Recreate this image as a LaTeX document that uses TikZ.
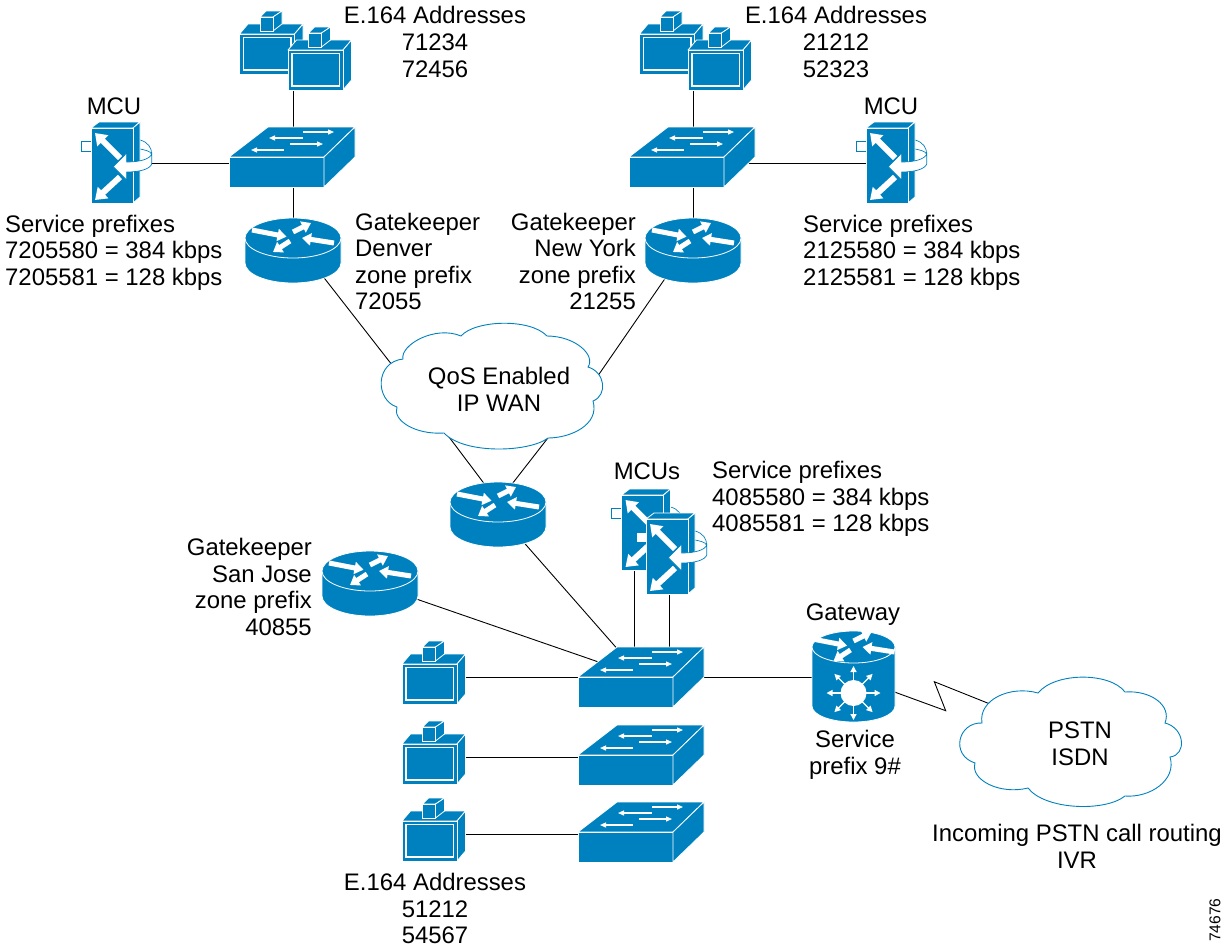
\documentclass[tikz,border=0pt]{standalone}
\usepackage{fontspec}
\setmainfont{Liberation Sans}
\usetikzlibrary{arrows.meta}
\definecolor{ciscoblue}{RGB}{0,129,191}

\tikzset{
    lbl/.style={inner sep=0pt,align=center,font=\fontsize{23.9}{26.6}\selectfont},
    wire/.style={black,line width=0.9pt},
    face/.style={fill=ciscoblue,draw=white,line width=0.8pt,line join=round},
    cloudline/.style={fill=white,draw=ciscoblue,line width=0.9pt},
    fatarrow/.style={white,line width=5pt,-{Triangle[width=12pt,length=9pt]}},
    smallarrow/.style={white,line width=1.3pt,-{Triangle[width=5pt,length=6pt]}},
    mcuarrow/.style={white,line width=6pt,-{Triangle[width=15pt,length=11pt]}},
    spoke/.style={white,line width=1.2pt,-{Triangle[width=6pt,length=6pt]}},
    pics/routertop/.style={code={
        \draw[fatarrow] (-41,-8) -- (-6.5,-1.3);
        \draw[fatarrow] (0,-6) -- (18,-15);
        \draw[fatarrow] (41,5) -- (9,0);
        \draw[fatarrow] (-3,3) -- (-20,14);
    }},
    pics/router/.style={code={
        \path[face] (-48,0) -- (-48,25) .. controls (-48,36) and (-26.5,45) .. (0,45)
            .. controls (26.5,45) and (48,36) .. (48,25) -- (48,0) -- cycle;
        \path[face] (0,0) ellipse [x radius=48,y radius=20];
        \pic {routertop};
    }},
    pics/gateway/.style={code={
        \path[face] (-41.5,-30) -- (-41.5,29) .. controls (-41.5,38) and (-23,45) .. (0,45)
            .. controls (23,45) and (41.5,38) .. (41.5,29) -- (41.5,-30) -- cycle;
        \path[face] (0,-30) ellipse [x radius=41.5,y radius=16];
        \begin{scope}[shift={(0,-30)},xscale=0.86,yscale=0.8]
            \pic {routertop};
        \end{scope}
        \foreach \a in {0,45,...,315}
            \draw[spoke] (\a:12) ++(0,16) -- ++(\a:15);
        \fill[white] (0,16) circle (13);
    }},
    pics/switch/.style={code={
        \path[face] (-64,0) -- (-25,-30) -- (62,-30) -- (31,0) -- cycle;
        \path[face] (-64,0) rectangle (31,30);
        \path[face] (31,0) -- (62,-30) -- (62,0) -- (31,30) -- cycle;
        \draw[smallarrow] (10,-25) -- (41,-25);
        \draw[smallarrow] (10,-19) -- (-24,-19);
        \draw[smallarrow] (-3,-13) -- (30,-13);
        \draw[smallarrow] (-9,-7) -- (-42,-7);
    }},
    pics/terminal/.style={code={
        \path[face] (-27.5,-13) -- (-19,-23) -- (36,-23) -- (27.5,-13) -- cycle;
        \path[face] (27.5,-13) -- (36,-23) -- (36,17) -- (27.5,27) -- cycle;
        \path[face] (-7,-30) -- (-1,-36) -- (15,-36) -- (6,-30) -- cycle;
        \path[face] (6,-30) -- (15,-36) -- (15,-23) -- (6,-16) -- cycle;
        \path[face] (-7,-30) rectangle (6,-16);
        \path[face] (-27.5,-13) rectangle (27.5,27);
        \draw[white,line width=1.2pt] (-23.5,-9.5) rectangle (24,23);
    }},
    pics/mcu/.style={code={
        \draw[ciscoblue,line width=0.7pt,fill=white] (-31,-22) rectangle (-21,-12);
        \draw[ciscoblue,line width=0.7pt] (28,-23) .. controls (36,-21) and (39.7,-15) .. (39.7,-9);
        \draw[ciscoblue,line width=0.7pt] (28,-14) .. controls (33,-13) and (38,-12) .. (39.7,-9);
        \path[face] (-21,-35) -- (-13,-41) -- (28,-41) -- (21,-35) -- cycle;
        \path[face] (21,-35) -- (28,-41) -- (28,34) -- (21,40) -- cycle;
        \path[face] (-21,-35) rectangle (21,40);
        \draw[mcuarrow] (8,-5) -- (-17,-30);
        \draw[mcuarrow] (8,14) -- (-17,37);
        \draw[ciscoblue,line width=0.7pt,fill=white] (1.3,3.7) -- (14.7,-10) -- (14.7,-1)
            .. controls (28,-1) and (38,-4) .. (39.7,-9) -- (39.7,1)
            .. controls (38,6) and (28,9) .. (14.7,9) -- (14.7,17) -- cycle;
    }}
}

\begin{document}
\begin{tikzpicture}[x=1pt,y=-1pt]
    %\draw[help lines] (0,0) grid (1225,951);
    \useasboundingbox (0,0) rectangle (1225,951);

    % where the icons sit
    \coordinate (hosta) at (293,80);
    \coordinate (hostb) at (693,80);
    \coordinate (swa) at (293,157);
    \coordinate (swb) at (693,157);
    \coordinate (mcua) at (112,163);
    \coordinate (mcub) at (887,163);
    \coordinate (rta) at (293,238);
    \coordinate (rtb) at (693,238);
    \coordinate (rtc) at (498,502);
    \coordinate (rtcbase) at (498,513);
    \coordinate (rtd) at (370,571);
    \coordinate (rtdbase) at (370,583);
    \coordinate (swc) at (642,677);
    \coordinate (swd) at (642,755);
    \coordinate (swe) at (642,832);
    \coordinate (tmc) at (429.5,677);
    \coordinate (tmd) at (429.5,757);
    \coordinate (tme) at (429.5,834);
    \coordinate (mcuc) at (634,569);
    \coordinate (mcud) at (669,594);
    \coordinate (gw) at (853.5,677);
    \coordinate (wana) at (403,379);
    \coordinate (wanb) at (595,380);
    \coordinate (wanc) at (440,425);
    \coordinate (wand) at (558,425);
    \coordinate (zigA) at (945.7,710.7);
    \coordinate (zigB) at (934.3,681.7);
    \coordinate (pstnw) at (1000,708);

    % connectors first, the icons cover their ends
    \draw[wire] (hosta) -- (swa);
    \draw[wire] (hostb) -- (swb);
    \draw[wire] (swa) -- (rta);
    \draw[wire] (swb) -- (rtb);
    \draw[wire] (mcua) -- (mcua -| swa);
    \draw[wire] (mcub) -- (mcub -| swb);
    \draw[wire] (rta) -- (wana);
    \draw[wire] (rtb) -- (wanb);
    \draw[wire] (rtc) -- (wanc);
    \draw[wire] (rtc) -- (wand);
    \draw[wire] (rtcbase) -- (swc);
    \draw[wire] (rtdbase) -- (swc);
    \draw[wire] (mcuc) -- (mcuc |- swc);
    \draw[wire] (mcud) -- (mcud |- swc);
    \draw[wire] (swc) -- (gw);
    \foreach \k in {c,d,e}
        \draw[wire] (tm\k) -- (tm\k -| sw\k);
    \draw[wire] (gw) -- (zigA) -- (zigB) -- (pstnw);

    % clouds
    \path[cloudline] (403,359) .. controls (400,345) and (435,325) .. (461,336)
        .. controls (475,320) and (530,318) .. (547,336)
        .. controls (575,336) and (596,355) .. (588,367)
        .. controls (605,372) and (608,395) .. (593,401)
        .. controls (600,425) and (570,438) .. (548,438)
        .. controls (530,452) and (465,455) .. (444,433)
        .. controls (415,435) and (392,420) .. (397,407)
        .. controls (375,400) and (375,362) .. (403,359) -- cycle;
    \path[cloudline] (982,723) .. controls (978,700) and (1010,685) .. (1038,693)
        .. controls (1055,672) and (1110,672) .. (1125,692)
        .. controls (1150,690) and (1172,705) .. (1165,723)
        .. controls (1185,728) and (1187,755) .. (1170,757)
        .. controls (1177,780) and (1150,798) .. (1125,796)
        .. controls (1105,812) and (1045,810) .. (1028,788)
        .. controls (1000,795) and (970,780) .. (975,763)
        .. controls (950,755) and (958,722) .. (982,723) -- cycle;

    % icons
    \pic at (267,47) {terminal};
    \pic at (315.5,63) {terminal};
    \pic at (667,47) {terminal};
    \pic at (715.5,63) {terminal};
    \foreach \k in {c,d,e}{
        \pic at (tm\k) {terminal};
        \pic at (sw\k) {switch};
    }
    \pic at (swa) {switch};
    \pic at (swb) {switch};
    \pic at (mcua) {mcu};
    \pic at (mcub) {mcu};
    \pic at (642.5,530) {mcu};
    \pic at (667,554) {mcu};
    \pic at (rta) {router};
    \pic at (rtb) {router};
    \pic at (rtc) {router};
    \pic at (rtd) {router};
    \pic at (gw) {gateway};

    % labels
    \node[lbl] (addra) at (435,42) {E.164 Addresses\\71234\\72456};
    \node[lbl] (addrb) at (836,42) {E.164 Addresses\\21212\\52323};
    \node[lbl] (mculabela) at (114,106) {MCU};
    \node[lbl] (mculabelb) at (891,106) {MCU};
    \node[lbl,align=left,anchor=west] (prefixa) at (5,252.5) {Service prefixes\\7205580 = 384 kbps\\7205581 = 128 kbps};
    \node[lbl,align=left,anchor=west] (prefixb) at (803,252.5) {Service prefixes\\2125580 = 384 kbps\\2125581 = 128 kbps};
    \node[lbl,align=left,anchor=west] (gka) at (355,261.5) {Gatekeeper\\Denver\\zone prefix\\72055};
    \node[lbl,align=right,anchor=east] (gkb) at (636,261.5) {Gatekeeper\\New York\\zone prefix\\21255};
    \node[lbl] (wan) at (499,389.5) {QoS Enabled\\IP WAN};
    \node[lbl] (mculabelc) at (647,471) {MCUs};
    \node[lbl,align=left,anchor=west] (prefixc) at (712,499) {Service prefixes\\4085580 = 384 kbps\\4085581 = 128 kbps};
    \node[lbl,align=right,anchor=east] (gkc) at (312,587) {Gatekeeper\\San Jose\\zone prefix\\40855};
    \node[lbl] (gwlabel) at (853,615) {Gateway};
    \node[lbl] (gwprefix) at (855,755) {Service\\prefix 9\#};
    \node[lbl] (pstn) at (1080,744) {PSTN\\ISDN};
    \node[lbl] (ivr) at (1077,846.5) {Incoming PSTN call routing\\IVR};
    \node[lbl] (addrc) at (435,908.5) {E.164 Addresses\\51212\\54567};
    \node[rotate=90,inner sep=0pt,font=\fontsize{15.6}{18}\selectfont] (figno) at (1215,920) {74676};
\end{tikzpicture}
\end{document}
